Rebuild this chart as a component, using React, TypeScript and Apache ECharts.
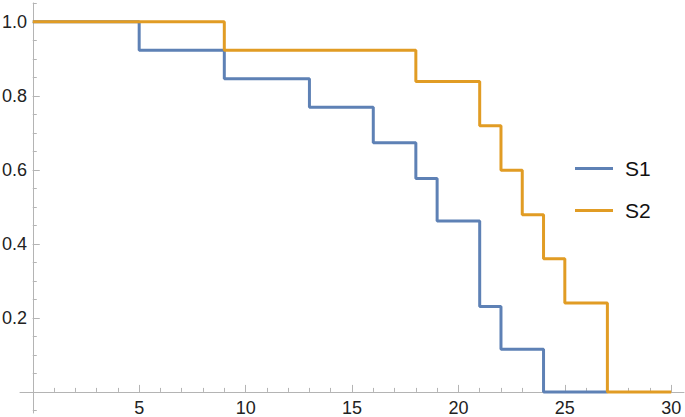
import React, { useEffect, useRef } from "react";
import * as echarts from "echarts";

const s1Times = [0, 5, 9, 13, 16, 18, 19, 21, 22, 24, 27];
const s1Values = [1, 0.923, 0.846, 0.769, 0.673, 0.577, 0.462, 0.231, 0.115, 0, 0];
const s2Times = [0, 9, 18, 21, 22, 23, 24, 25, 27, 30];
const s2Values = [1, 0.923, 0.839, 0.719, 0.599, 0.479, 0.36, 0.24, 0, 0];

const xLabelValues = [5, 10, 15, 20, 25, 30];
const xMinorTicks = Array.from({ length: 30 }, (_, i) => i + 1);
const yLabelValues = [0.2, 0.4, 0.6, 0.8, 1.0];
const yMinorTicks = [-0.05, 0.05, 0.1, 0.15, 0.2, 0.25, 0.3, 0.35, 0.4, 0.45, 0.5, 0.55, 0.6, 0.65, 0.7, 0.75, 0.8, 0.85, 0.9, 0.95, 1.0, 1.05];

const AXIS = "#b4b4b4";
const FONT = "Liberation Sans";
const BLUE = "#5E81B5";
const ORANGE = "#E19C24";

export default function App() {
  const ref = useRef<HTMLDivElement>(null);
  useEffect(() => {
    if (!ref.current) return;
    const chart = echarts.init(ref.current, undefined, { renderer: "svg" });
    const xRange = { min: -0.6, max: 30.6 };
    const yRange = { min: -0.057, max: 1.051 };
    const xLabRange = { min: 0, max: 30.6 };
    const yLabRange = { min: 0, max: 1.051 };
    const noLine = { show: false };
    chart.setOption({
      animation: false,
      grid: [
        { left: 20, right: 1, top: 3, bottom: 4, containLabel: false, outerBoundsMode: "none" },
        { left: 33, right: 1, top: 3, bottom: 25, containLabel: false, outerBoundsMode: "none" },
      ],
      legend: {
        orient: "vertical",
        left: 575,
        top: 158,
        padding: 0,
        itemGap: 21,
        itemWidth: 38,
        itemHeight: 3,
        icon: "rect",
        textStyle: { fontFamily: FONT, fontSize: 21, color: "#111", padding: [0, 0, 0, 7] },
        data: ["S1", "S2"],
      },
      xAxis: [
        {
          type: "value",
          gridIndex: 0,
          ...xRange,
          axisLine: { show: true, onZero: true, lineStyle: { color: AXIS, width: 1 } },
          axisTick: { show: true, inside: true, length: 4, customValues: xMinorTicks, lineStyle: { color: AXIS } },
          axisLabel: { show: false },
          splitLine: { show: false },
        },
        {
          type: "value",
          gridIndex: 0,
          ...xRange,
          position: "bottom",
          axisLine: { show: true, onZero: true, lineStyle: { color: AXIS, opacity: 0 } },
          axisTick: { show: true, inside: true, length: 7, customValues: xLabelValues, lineStyle: { color: AXIS } },
          axisLabel: { show: false },
          splitLine: { show: false },
        },
        {
          type: "value",
          gridIndex: 1,
          ...xLabRange,
          position: "bottom",
          axisLine: noLine,
          axisTick: { show: false },
          axisLabel: {
            show: true,
            customValues: xLabelValues,
            margin: 7,
            fontFamily: FONT,
            fontSize: 18,
            color: "#222",
            formatter: (v: number) => String(Math.round(v)),
          },
          splitLine: { show: false },
        },
      ],
      yAxis: [
        {
          type: "value",
          gridIndex: 0,
          ...yRange,
          axisLine: { show: true, onZero: true, lineStyle: { color: AXIS, width: 1 } },
          axisTick: { show: true, inside: true, length: 4, customValues: yMinorTicks, lineStyle: { color: AXIS } },
          axisLabel: { show: false },
          splitLine: { show: false },
        },
        {
          type: "value",
          gridIndex: 0,
          ...yRange,
          position: "left",
          axisLine: { show: true, onZero: true, lineStyle: { color: AXIS, opacity: 0 } },
          axisTick: { show: true, inside: true, length: 7, customValues: yLabelValues, lineStyle: { color: AXIS } },
          axisLabel: { show: false },
          splitLine: { show: false },
        },
        {
          type: "value",
          gridIndex: 1,
          ...yLabRange,
          position: "left",
          axisLine: noLine,
          axisTick: { show: false },
          axisLabel: {
            show: true,
            customValues: yLabelValues,
            margin: 6,
            fontFamily: FONT,
            fontSize: 18,
            color: "#222",
            formatter: (v: number) => v.toFixed(1),
          },
          splitLine: { show: false },
        },
      ],
      series: [
        {
          name: "S1",
          type: "line",
          xAxisIndex: 0,
          yAxisIndex: 0,
          step: "end",
          symbol: "none",
          color: BLUE,
          lineStyle: { width: 3, color: BLUE },
          data: s1Times.map((t, i) => [t, s1Values[i]]),
        },
        {
          name: "S2",
          type: "line",
          xAxisIndex: 0,
          yAxisIndex: 0,
          step: "end",
          symbol: "none",
          color: ORANGE,
          lineStyle: { width: 3, color: ORANGE },
          data: s2Times.map((t, i) => [t, s2Values[i]]),
        },
      ],
    });
    return () => chart.dispose();
  }, []);
  return (
    <div
      ref={ref}
      style={{ position: "fixed", left: 0, top: 0, width: 685, height: 417, background: "#fff" }}
    />
  );
}
